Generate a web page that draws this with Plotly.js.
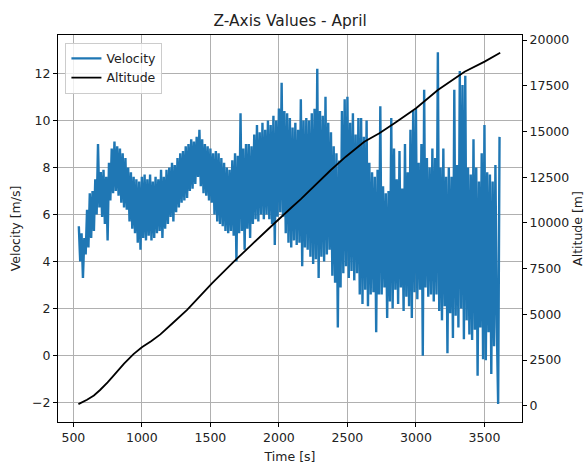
<!DOCTYPE html>
<html>
<head>
<meta charset="utf-8">
<script src="https://cdn.plot.ly/plotly-3.0.1.min.js"></script>
<style>
  html, body { margin: 0; padding: 0; background: #fff; }
  #chart { width: 585px; height: 468px; }
</style>
</head>
<body>
<div id="chart"></div>
<script>
// Velocity log: one sample every 10 s starting at 540 s
const velStart = 540;
const velStep = 10;
const velocity = [
  5.5, 4.0, 5.2, 3.3, 5.0, 4.3, 6.2, 4.6, 6.9, 5.0,
  7.0, 5.3, 7.5, 6.0, 9.0, 6.3, 7.8, 5.9, 7.9, 5.6,
  7.6, 4.9, 8.2, 6.6, 8.8, 6.9, 9.1, 7.0, 8.9, 6.8,
  8.8, 6.5, 8.6, 6.3, 8.4, 6.2, 8.0, 5.7, 7.8, 5.4,
  7.6, 5.2, 7.5, 4.8, 7.4, 4.5, 7.6, 5.0, 7.7, 4.9,
  7.5, 5.1, 7.7, 4.9, 7.4, 5.0, 7.6, 5.2, 7.5, 5.3,
  7.9, 5.0, 7.6, 5.4, 7.9, 5.6, 8.0, 5.9, 8.2, 5.7,
  8.1, 6.1, 8.4, 6.3, 8.6, 6.5, 8.7, 6.6, 8.9, 6.7,
  9.0, 7.0, 9.2, 7.1, 9.1, 7.3, 9.3, 7.6, 9.6, 7.2,
  9.2, 6.9, 9.0, 6.8, 8.9, 6.6, 8.8, 6.5, 8.6, 6.0,
  8.7, 5.7, 8.6, 5.6, 8.4, 5.5, 8.2, 5.3, 8.0, 5.2,
  7.9, 5.3, 8.3, 5.1, 8.6, 4.0, 8.5, 5.2, 10.3, 5.3,
  8.8, 4.5, 9.0, 5.4, 9.0, 5.0, 8.9, 5.6, 9.4, 5.8,
  9.8, 5.7, 9.5, 6.0, 9.9, 5.8, 9.6, 6.0, 10.0, 5.8,
  9.8, 5.6, 10.2, 4.7, 10.0, 5.9, 10.5, 6.1, 11.6, 5.9,
  10.4, 5.2, 10.3, 4.8, 10.1, 4.6, 9.7, 4.9, 9.9, 4.7,
  9.6, 4.8, 10.9, 3.8, 10.0, 4.6, 10.1, 4.5, 10.0, 4.2,
  10.3, 3.9, 10.5, 4.1, 12.2, 3.3, 10.4, 4.2, 10.2, 4.0,
  11.0, 4.3, 9.9, 4.5, 9.5, 3.4, 8.9, 3.1, 8.6, 1.2,
  8.3, 2.9, 10.4, 3.5, 10.9, 3.8, 11.0, 3.3, 9.9, 3.6,
  10.3, 3.2, 9.4, 3.5, 10.1, 2.6, 10.1, 2.2, 9.3, 2.8,
  10.0, 2.1, 8.2, 2.6, 7.8, 2.7, 7.6, 1.0, 7.9, 2.6,
  10.6, 2.6, 7.2, 2.9, 6.9, 1.6, 7.0, 2.3, 10.1, 2.0,
  8.8, 2.8, 7.5, 2.2, 8.7, 2.9, 7.1, 1.9, 9.0, 2.5,
  7.8, 2.1, 9.6, 1.6, 10.4, 2.7, 10.5, 2.4, 8.2, 2.8,
  9.0, 0.0, 11.3, 2.9, 8.4, 2.5, 8.0, 2.6, 8.8, 2.3,
  8.4, 2.6, 12.9, 1.9, 8.0, 1.5, 8.8, 2.1, 7.6, 0.1,
  8.0, 1.8, 7.6, 0.75, 11.3, 1.7, 8.1, 1.2, 12.1, 2.0,
  11.5, 0.7, 11.9, 1.5, 8.0, 0.9, 7.7, 0.67, 9.2, 1.1,
  8.0, -0.85, 7.4, 1.2, 8.6, -0.15, 9.8, -0.2, 7.8, 1.0,
  7.7, -0.78, 7.4, 0.4, 8.1, 1.3, -2.05, 9.3
];
const velTime = velocity.map((_, i) => velStart + i * velStep);

// Altitude track
const altTime = [537, 600, 650, 695, 750, 800, 870, 939, 1000, 1070, 1135, 1230, 1330,
                 1513, 1671, 1800, 1915, 2086, 2160, 2379, 2488, 2623, 2733, 2843,
                 3001, 3160, 3355, 3501, 3615];
const altitude = [90, 330, 560, 860, 1280, 1700, 2300, 2820, 3200, 3540, 3900, 4550, 5240,
                  6700, 7880, 8800, 9610, 10800, 11300, 12890, 13620, 14440, 14900, 15450,
                  16270, 17270, 18270, 18820, 19300];

const xTicks = [500, 1000, 1500, 2000, 2500, 3000, 3500];
const velTicks = [-2, 0, 2, 4, 6, 8, 10, 12];
const altTicks = [0, 2500, 5000, 7500, 10000, 12500, 15000, 17500, 20000];

const FONT = 'DejaVu Sans, sans-serif';
const TXT = '#222';

const traces = [
  {
    x: velTime, y: velocity, name: 'Velocity', type: 'scatter', mode: 'lines',
    line: { color: '#1f77b4', width: 2.4, simplify: false }, yaxis: 'y'
  },
  {
    x: altTime, y: altitude, name: 'Altitude', type: 'scatter', mode: 'lines',
    line: { color: '#000000', width: 1.8, simplify: false }, yaxis: 'y2'
  }
];

const layout = {
  width: 585, height: 468,
  margin: { l: 58, r: 63, t: 35, b: 46 },
  paper_bgcolor: '#fff', plot_bgcolor: '#fff',
  font: { family: FONT, size: 12.5, color: TXT },
  title: { text: 'Z-Axis Values - April', x: 0.496, xanchor: 'center', y: 0.956, yanchor: 'middle',
           font: { family: FONT, size: 15.4, color: TXT } },
  showlegend: true,
  legend: {
    x: 0.016, y: 0.98, xanchor: 'left', yanchor: 'top',
    bgcolor: 'rgba(255,255,255,0.8)', bordercolor: '#cccccc', borderwidth: 1,
    font: { family: FONT, size: 12.5, color: TXT }, itemwidth: 30, tracegroupgap: 0
  },
  xaxis: {
    range: [388, 3774], tickvals: xTicks, ticktext: xTicks.map(String),
    showgrid: true, gridcolor: '#b0b0b0', gridwidth: 1, zeroline: false,
    showline: true, linecolor: '#000', linewidth: 1, mirror: true,
    ticks: 'outside', ticklen: 4, tickwidth: 1, tickcolor: '#000',
    title: { text: 'Time [s]', standoff: 8, font: { family: FONT, size: 12.5, color: TXT } }
  },
  yaxis: {
    range: [-2.82, 13.63], tickvals: velTicks, ticktext: velTicks.map(v => v < 0 ? '\u2212' + Math.abs(v) : String(v)),
    showgrid: true, gridcolor: '#b0b0b0', gridwidth: 1, zeroline: false,
    showline: true, linecolor: '#000', linewidth: 1, mirror: true,
    ticks: 'outside', ticklen: 4, tickwidth: 1, tickcolor: '#000',
    title: { text: 'Velocity [m/s]', standoff: 8, font: { family: FONT, size: 12.5, color: TXT } }
  },
  yaxis2: {
    range: [-890, 20275], overlaying: 'y', side: 'right',
    tickvals: altTicks, ticktext: altTicks.map(String),
    showgrid: false, zeroline: false,
    showline: true, linecolor: '#000', linewidth: 1,
    ticks: 'outside', ticklen: 4, tickwidth: 1, tickcolor: '#000',
    title: { text: 'Altitude [m]', standoff: 11, font: { family: FONT, size: 12.5, color: TXT } }
  }
};

Plotly.newPlot('chart', traces, layout, { staticPlot: true, displayModeBar: false });
</script>
</body>
</html>
